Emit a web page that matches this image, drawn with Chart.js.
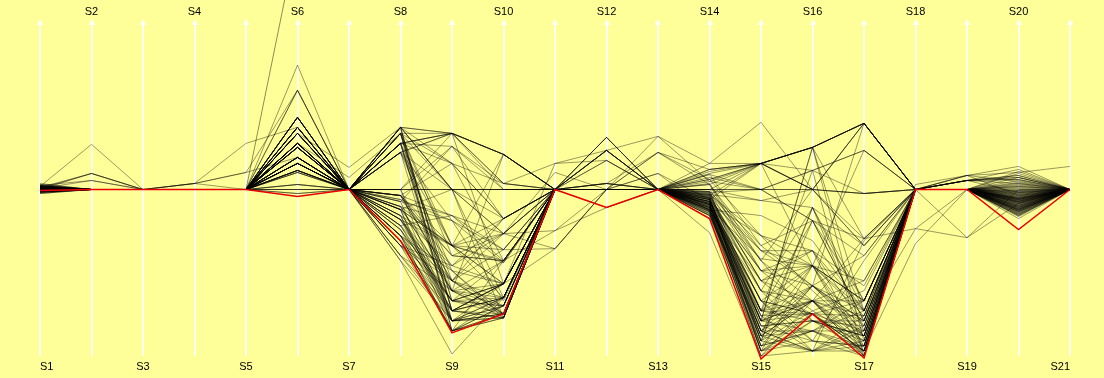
<!DOCTYPE html>
<html>
<head>
<meta charset="utf-8">
<script src="https://cdn.jsdelivr.net/npm/chart.js@4.4.1/dist/chart.umd.min.js"></script>
<style>
  html, body { margin: 0; padding: 0; background: #ffff99; }
  canvas { display: block; }
</style>
</head>
<body>
<canvas id="myChart" width="1104" height="378"></canvas>
<script>
"use strict";

// axis names, one per vertical axis
const axes = ["S1", "S2", "S3", "S4", "S5", "S6", "S7", "S8", "S9", "S10", "S11",
  "S12", "S13", "S14", "S15", "S16", "S17", "S18", "S19", "S20", "S21"];

// the highlighted (red) record
const highlight = [-1, 0, 0, 0, 0, -7, 0, -51, -143, -124, 0, -18, 0, -29, -169, -124, -168, 0, 0, -40, 0];

// record that runs off the top at S6 and has no further values
const runaway = [0, 0, 0, 0, 0, 252, null, null, null, null, null, null, null, null, null, null, null, null, null, null, null];

// the other records, S1..S21
const records = [
  [3, 45, 0, 0, 0, 72, 0, 62, 56, 35, 0, 39, 0, 26, 26, 42, 66, 0, 9, 10, 0],
  [2, 16, 0, 6, 17, 99, 0, 46, 56, 35, 0, 52, 0, 10, 26, 42, 66, 0, 14, 23, 0],
  [4, 9, 0, 6, 46, 62, 0, 37, 56, 6, 0, 29, 0, 5, 26, 0, 66, 0, 9, 14, 0],
  [1, 16, 0, 0, 0, 124, 0, 56, 26, -29, 0, 6, 0, -5, -46, -76, -111, 0, 0, 5, 0],
  [0, 0, 0, 0, 0, 56, 22, 62, 0, -44, 0, 39, 0, 15, 0, 19, 39, 0, 14, 17, 23],
  [-2, 0, 0, 0, 0, 46, 12, 56, -56, -94, 26, 39, 53, 26, 67, 0, -4, 0, 9, 12, 0],
  [5, 0, 0, 0, 0, 42, 0, 46, 43, 0, 0, 6, 37, 20, 26, 42, -49, 0, 9, 20, 0],
  [-3, 0, 0, 6, 17, 32, 0, 0, 0, 0, 0, 0, 0, 0, 26, 42, 66, 0, 14, 8, 0],
  [0, 0, 0, 0, 0, 26, 0, 0, 0, 0, 0, 0, 0, 0, 0, 0, -4, 0, 9, 6, 0],
  [6, 0, 0, 0, 0, 19, 0, -6, -91, -108, 0, 0, 16, -10, -121, -31, -131, 0, 0, -12, 0],
  [-4, 0, 0, 0, 0, 5, 0, -17, -101, -124, 0, 0, 0, -15, -141, -111, -151, 0, 0, -20, 0],
  [2, 0, 0, 0, 0, 0, 0, -30, -121, -94, 0, 0, 0, -20, -151, -161, -141, 0, 0, -25, 0],
  [1, 0, 0, 0, 0, -4, 0, -40, -111, -116, 0, 0, 0, -8, -101, -18, -121, 0, 0, -8, 0],
  [-1, 0, 0, 0, 0, 62, 0, -66, -131, -128, 0, 0, 0, -12, -131, -124, -161, 0, 0, -16, 0],
  [3, 0, 0, 0, 0, 46, 0, -71, -164, -108, 0, 0, 0, -26, -161, -76, -166, 0, 0, -29, 0],
  [0, 0, 0, 0, 0, 99, 0, -51, -141, -124, 0, 0, 0, -18, -111, -151, -156, 0, 0, -4, 0],
  [2, 0, 0, 0, 0, 32, 0, -20, -56, -71, -41, -18, 0, -22, -91, -131, -146, 0, 0, -10, 0],
  [0, 0, 0, 0, 0, 26, 0, -10, -66, -44, -59, 0, 0, -4, -61, -96, -136, 0, 0, 3, 0],
  [-2, 0, 0, 0, 0, 56, 0, -36, -121, -128, 0, 6, 0, -29, -156, -141, -111, 0, 0, -14, 0],
  [1, 0, 0, 0, 0, 42, 0, -46, -81, -94, 0, 0, 0, -43, -166, -111, -126, -39, 0, -6, 0],
  [4, 0, 0, 0, 0, 19, 0, -26, -131, -108, 0, 0, 0, -10, -141, -161, -151, 0, 0, -22, 0],
  [-1, 0, 0, 0, 0, 72, 0, 62, 0, 0, 0, 52, 0, 0, -71, 0, -56, 0, 0, -2, 0],
  [0, 0, 0, 0, 0, 62, 0, 46, 56, -94, 0, 0, 0, 5, -81, -121, -101, 0, 0, 7, 0],
  [2, 0, 0, 0, 0, 56, 0, 56, 0, -108, 0, 0, 0, -6, 26, -76, 39, 0, 0, 4, 0],
  [3, 0, 0, 0, 0, 46, 0, 37, -56, 35, 0, 39, 0, 12, 0, -31, -49, 0, 0, 9, 0],
  [-3, 0, 0, 0, 0, 32, 0, 0, -131, -124, 0, 0, 0, -15, -121, 19, -166, 0, 0, -18, 0],
  [0, 0, 0, 0, 0, 26, 0, 0, -101, -108, 0, -18, 0, -20, -146, -18, -141, 0, -48, 0, 0],
  [1, 0, 0, 0, 0, 5, 0, -6, 26, -29, 0, 0, 0, -10, -131, 42, -121, 0, 0, -11, 0],
  [2, 0, 0, 0, 0, 0, 0, -56, -141, -128, 0, 0, 0, -8, -161, -124, -161, -54, 0, -1, 0],
  [0, 0, 0, 0, 0, -4, 0, -66, -121, -94, 0, 0, 0, -5, -101, -151, -156, 0, 0, -13, 0],
  [4, 0, 0, 0, 0, 17, 0, -12, 43, 6, 26, 29, 0, 15, -56, -96, 66, 0, 0, 16, 0],
  [-2, 0, 0, 0, 0, 42, 0, -30, -91, -44, 17, 0, 37, 10, -46, -61, -136, 0, 0, -7, 0],
  [1, 0, 0, 0, 0, 72, 0, -40, -111, -71, 0, 0, 0, -16, -131, -111, -111, 0, 0, -26, 0],
  [0, 0, 0, 0, 0, 56, 0, -20, 0, -128, 0, 0, 16, -22, -141, -96, -66, 0, 0, -19, 0],
  [3, 0, 0, 0, 0, 46, 0, -51, -131, -116, 0, 6, 0, -12, -111, -161, -126, 0, 0, -9, 0],
  [-1, 0, 0, 0, 0, 62, 0, 56, -141, -108, 0, 0, 0, -6, -71, -131, -146, 0, 0, -3, 0],
  [2, 0, 0, 0, 0, 26, 0, 46, -121, -94, 0, 39, 0, -2, -121, -76, -111, 0, 0, 2, 0],
  [0, 0, 0, 0, 0, 32, 0, 37, -81, -124, 0, 0, 0, -18, -151, -31, -131, 0, 0, -15, 0],
  [5, 0, 0, 0, 0, 19, 0, 0, 56, 0, 0, 0, 0, -10, 26, 0, 66, 0, 0, 12, 0],
  [-4, 0, 0, 0, 0, 99, 0, 0, 43, -29, 0, 29, 0, -3, 0, 19, -4, 0, 0, 18, 0],
  [0, 0, 0, 0, 0, 56, 0, 62, 26, -71, 0, 0, 53, 8, 26, 0, -56, 0, 0, 6, 0],
  [1, 0, 0, 0, 0, 42, 0, -17, -101, 35, 0, 0, 0, -25, -131, 42, -151, 0, 0, -21, 0],
  [2, 0, 0, 0, 0, 46, 0, -46, -141, -128, 0, 0, 0, -14, -161, -151, -166, 0, 0, -27, 0],
  [-1, 0, 0, 0, 0, 26, 0, -6, -56, -94, -59, 0, 0, -8, -91, -111, -161, 0, 0, -5, 0],
  [0, 0, 0, 0, 0, 5, 0, -71, -131, -124, 0, 0, 0, -20, -156, -124, -141, 0, 0, -12, 0],
  [3, 0, 0, 0, 0, 62, 0, 56, -111, -116, 0, 0, 0, -26, -141, -141, -121, 0, 0, -17, 0],
  [0, 0, 0, 0, 0, 72, 0, 46, 56, 35, 0, 39, 0, 16, 26, 42, 66, 0, 0, 0, 0],
  [2, 0, 0, 0, 0, 32, 0, 37, 56, 6, 0, 52, 0, 20, 26, 0, 66, 0, 9, 14, 0],
  [-2, 0, 0, 0, 0, 46, 0, 62, 0, -44, 0, 0, 37, 5, -61, -61, -96, 0, 0, -9, 0],
  [1, 0, 0, 0, 0, 19, 0, -26, -121, -108, 0, 0, 0, -12, -121, -96, -131, 0, 0, -23, 0],
  [0, 0, 0, 0, 0, 26, 0, -36, -91, -124, 0, 0, 0, -17, -111, -124, -126, 5, 14, -6, 0],
  [4, 0, 0, 0, 0, 56, 0, -12, -131, -94, 0, 0, 0, -14, -146, -141, -156, 0, 0, -10, 0],
  [-1, 0, 0, 0, 0, 42, 0, -56, -101, -128, 0, 0, 0, -22, -166, -161, -161, 0, 0, -16, 0],
  [0, 0, 0, 0, 0, 0, 0, -20, -141, -116, 0, 0, 0, -7, -136, -131, -146, 0, 0, -20, 0],
  [2, 0, 0, 0, 0, 17, 0, -46, -121, -124, 0, 0, 0, -2, -126, -111, -166, 0, 0, -8, 0],
  [0, 0, 0, 0, 0, 62, 0, 46, 26, 6, 0, 0, 0, 10, 26, 19, 39, 0, 0, 3, 0],
  [1, 0, 0, 0, 0, 32, 0, 0, 0, 0, 0, 0, 0, 0, 0, 0, -49, -39, -48, -14, 0],
  [3, 0, 0, 0, 0, 26, 0, -6, -66, -71, 0, 0, 0, -12, -81, -76, -111, 0, 0, -24, 0],
  [-2, 0, 0, 0, 0, 46, 0, 56, 56, 35, 0, 39, 0, 20, 26, 42, 66, 0, 9, 10, 0],
  [0, 0, 0, 0, 0, 72, 0, -30, -111, -94, 0, 0, 0, -15, -151, -121, -151, 0, 0, -12, 0],
  [1, 9, 0, 0, 0, 42, 0, -6, -26, -44, 0, 0, 0, -5, -11, -18, -56, 0, 0, -5, 0],
  [-2, 0, 0, 0, 0, 32, 0, -17, -31, -60, 0, 0, 0, 8, 0, -31, -66, 0, 9, -3, 0],
  [0, 16, 0, 0, 0, 56, 0, -26, -76, -29, 0, 6, 0, -18, -69, -76, -121, 0, 0, -14, 0],
  [2, 0, 0, 6, 0, 46, 0, -36, -26, -71, 0, 0, 0, -10, -101, -111, -49, 0, 0, -19, 0],
  [-1, 0, 0, 0, 0, 26, 0, -46, -91, -60, 0, 0, 0, -20, -121, -131, -136, 0, 0, -22, 0],
  [3, 0, 0, 0, 0, 62, 0, -56, -76, -94, 0, 0, 0, -14, -46, -101, -146, 0, 0, -9, 0],
  [0, 0, 0, 0, 0, 19, 0, 46, -56, -44, 0, 0, 0, -24, -141, -76, -156, 0, 0, -17, 0],
  [1, 0, 0, 0, 0, 42, 0, -26, -56, -108, 0, 0, 0, -3, -81, -61, -161, 0, 0, -11, 0],
  [-3, 0, 0, 0, 0, 72, 0, -6, -91, -29, 0, 0, 0, -17, -131, -96, -131, 0, 0, -20, 0],
  [0, 0, 0, 0, 0, 32, 0, 62, -141, -71, 0, 0, 0, -9, -151, -18, -111, 0, 0, -6, 0],
  [2, 0, 0, 0, 0, 56, 0, -46, -111, -124, 0, 0, 0, -19, -161, -141, -141, 0, 0, -24, 0],
  [0, 0, 0, 0, 0, 46, 0, 37, -31, -73, 0, 0, 0, -12, -111, -124, -166, 0, 0, -13, 0],
  [1, 0, 0, 0, 0, 26, 0, -56, -121, -108, 0, 0, 0, -26, -146, -111, -91, 0, 0, -18, 0],
  [-1, 0, 0, 0, 0, 62, 0, -66, -101, -116, 0, 0, 0, -6, -91, -76, -126, 0, 0, -2, 0],
  [4, 0, 0, 0, 0, 19, 0, -20, -81, -128, 0, 0, 0, -22, -126, -161, -136, 0, 0, -21, 0],
  [0, 0, 0, 0, 0, 42, 0, -30, -56, -73, 0, 0, 0, -15, -136, -131, -161, 0, 0, -16, 0],
  [2, 0, 0, 0, 0, 32, 0, -40, -131, -108, 0, 0, 0, -8, -156, -96, -146, 0, 0, -10, 0],
  [-2, 0, 0, 0, 0, 56, 0, -51, -111, -94, 0, 0, 0, -20, -26, -51, -121, 0, 0, -7, 0],
  [1, 0, 0, 0, 0, 46, 0, 46, -91, -124, 0, 0, 0, -13, -121, -111, -156, 0, 0, -15, 0],
  [0, 0, 0, 0, 0, 72, 0, 37, -131, -116, 0, 0, 0, -17, -161, -131, -131, 0, 0, -26, 0],
  [3, 0, 0, 0, 0, 26, 0, 62, -121, -128, 0, 0, 0, -4, -131, -141, -166, 0, 0, -12, 0],
  [0, 0, 0, 0, 0, 42, 0, 56, -66, -71, 0, 0, 0, -21, -101, -124, -111, 0, 0, -8, 0],
  [-1, 0, 0, 0, 0, 17, 0, -17, -56, -29, 0, 0, 0, -11, -61, -76, -146, 0, 0, -4, 0],
  [1, 0, 0, 0, 0, 32, 0, 56, -101, -94, 0, 0, 0, -24, -146, -161, -156, 0, 0, -23, 0],
  [0, 0, 0, 0, 0, 62, 0, -12, -26, -60, 0, 0, 0, 6, -71, -111, -131, 0, 0, 1, 0],
  [2, 0, 0, 0, 0, 46, 0, -36, -111, -108, 0, 0, 0, -16, -126, -124, -161, 0, 0, -19, 0],
  [0, 0, 0, 0, 0, 56, 0, -46, -141, -124, 0, 0, 0, -10, -151, -96, -141, 0, 0, -11, 0],
  [-2, 0, 0, 0, 0, 26, 0, 46, -121, -94, 0, 0, 0, -19, -136, -151, -71, 0, 0, -21, 0],
  [1, 0, 0, 0, 0, 72, 0, -6, -76, -44, -41, 0, 0, -2, -56, -31, -111, 0, 0, -3, 0],
  [0, 0, 0, 0, 0, 42, 0, -56, -91, -116, 0, 0, 0, -13, -111, -76, -91, 0, 0, -14, 0],
  [3, 0, 0, 0, 0, 19, 0, -20, -131, -128, 0, 0, 0, -21, -166, -131, -151, 0, 0, -25, 0],
  [0, 0, 0, 0, 0, 32, 0, -30, -101, -71, 0, 0, 0, -7, -91, -61, -121, 0, 0, -9, 0],
  [-1, 0, 0, 0, 0, 62, 0, 56, -111, -94, 0, 0, 0, -15, -131, -111, -146, 0, 0, -17, 0],
  [2, 0, 0, 0, 0, 46, 0, 46, -131, -124, 0, 0, 0, -23, -156, -141, -161, 0, 0, -22, 0],
  [0, 0, 0, 0, 0, 56, 0, 37, 0, -29, 0, 0, 0, 0, -11, 0, -4, 0, 0, -1, 0],
  [1, 0, 0, 0, 0, 26, 0, 62, -121, -108, 0, 0, 0, -9, -141, -161, -51, 0, 0, -13, 0],
  [-3, 0, 0, 0, 0, 72, 0, -51, -141, -116, 0, 0, 0, -18, -121, -124, -156, 0, 0, -18, 0],
  [0, 0, 0, 0, 0, 42, 0, -10, -31, -111, 0, 0, 0, -12, -146, -111, -166, 0, 0, -20, 0],
  [2, 0, 0, 0, 0, 62, 0, 62, 56, 35, 0, 52, 0, 18, 26, 42, 66, 0, 9, 12, 0],
  [0, 0, 0, 0, 0, 46, 0, -20, -56, -60, -59, 0, 0, -14, -81, -96, -121, 0, 0, -10, 0]
];

// white axes with an arrow on top, labels alternating bottom/top
const axesPlugin = {
  id: "parallelAxes",
  beforeDatasetsDraw(chart) {
    const ctx = chart.ctx;
    const area = chart.chartArea;
    const xs = chart.scales.x;
    ctx.save();
    ctx.strokeStyle = "rgba(255,255,255,0.85)";
    ctx.fillStyle = "rgba(255,255,255,0.85)";
    ctx.lineWidth = 2;
    axes.forEach((name, i) => {
      const x = Math.round(xs.getPixelForTick(i));
      ctx.beginPath();
      ctx.moveTo(x, area.bottom);
      ctx.lineTo(x, area.top + 3);
      ctx.stroke();
      ctx.beginPath();
      ctx.moveTo(x, area.top - 1);
      ctx.lineTo(x - 3.5, area.top + 5);
      ctx.lineTo(x + 3.5, area.top + 5);
      ctx.closePath();
      ctx.fill();
    });
    ctx.restore();
  },
  afterDraw(chart) {
    const ctx = chart.ctx;
    const xs = chart.scales.x;
    ctx.save();
    ctx.fillStyle = "#000";
    ctx.font = "11px 'Liberation Sans', Arial, sans-serif";
    ctx.textBaseline = "middle";
    axes.forEach((name, i) => {
      const x = xs.getPixelForTick(i);
      if (i === 0) ctx.textAlign = "left";
      else if (i === axes.length - 1) ctx.textAlign = "right";
      else ctx.textAlign = "center";
      const y = i % 2 === 0 ? 367 : 12;
      ctx.fillText(name, x, y);
    });
    ctx.restore();
  }
};

const datasets = [
  {
    data: highlight,
    borderColor: "rgb(235,0,0)",
    borderWidth: 1.5
  },
  {
    data: runaway,
    borderColor: "rgba(0,0,0,0.45)",
    borderWidth: 1
  }
].concat(records.map((r) => ({
  data: r,
  borderColor: "rgba(0,0,0,0.4)",
  borderWidth: 1
})));

const ctx = document.getElementById("myChart").getContext("2d");
const myChart = new Chart(ctx, {
  type: "line",
  data: {
    labels: axes,
    datasets: datasets
  },
  options: {
    responsive: false,
    animation: false,
    devicePixelRatio: 1,
    layout: {
      padding: { left: 40, right: 34, top: 20, bottom: 22 }
    },
    elements: {
      point: { radius: 0, hoverRadius: 0 },
      line: { tension: 0, fill: false }
    },
    datasets: {
      line: { clip: false, spanGaps: false }
    },
    plugins: {
      legend: { display: false },
      tooltip: { enabled: false }
    },
    scales: {
      x: {
        display: false,
        offset: false
      },
      y: {
        display: false,
        min: -166,
        max: 169
      }
    }
  },
  plugins: [axesPlugin]
});
</script>
</body>
</html>
